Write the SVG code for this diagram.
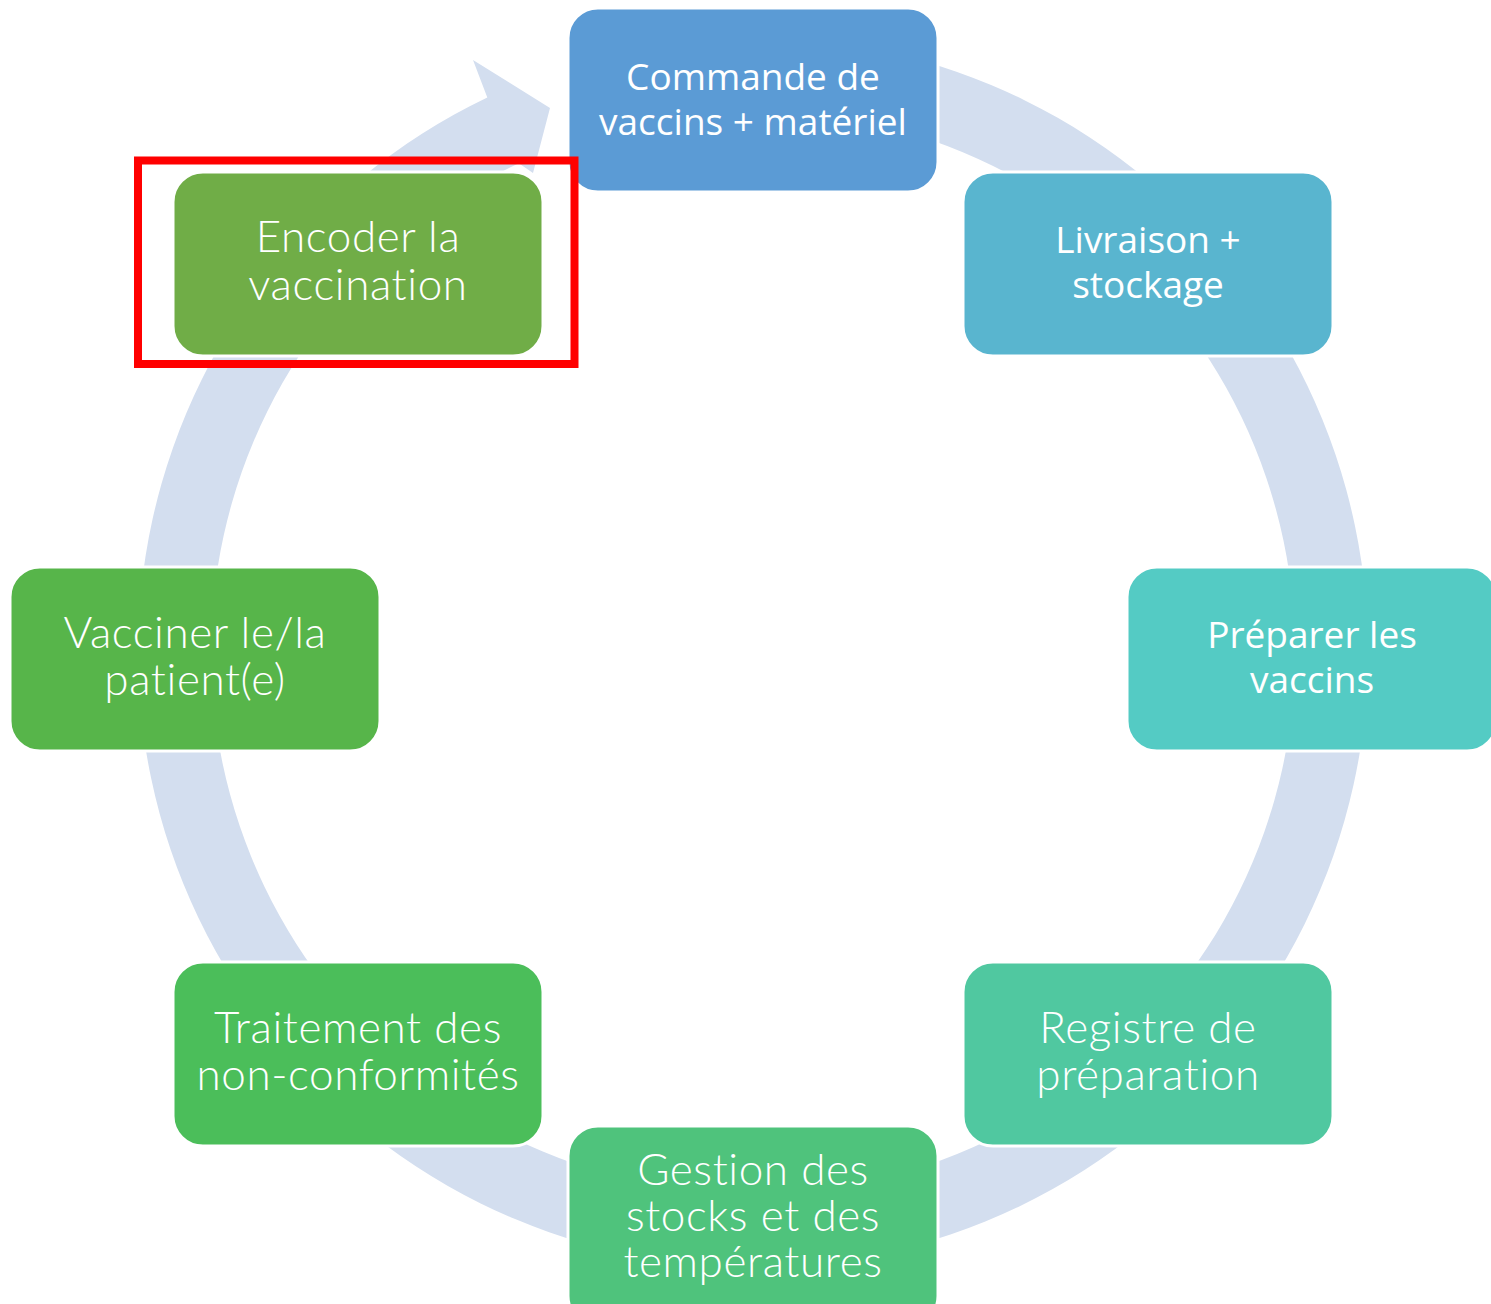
<svg xmlns="http://www.w3.org/2000/svg" width="1491" height="1304" viewBox="0 0 1491 1304">
<style>
.box{stroke:#FFFFFF;stroke-width:3}
.t1{font-family:"Open Sans","Noto Sans","Liberation Sans",sans-serif;font-size:37px;fill:#FFFFFF;text-anchor:middle}
.t2{font-family:Lato,"Open Sans","Liberation Sans",sans-serif;font-weight:300;font-size:44px;letter-spacing:0.6px;font-variant-ligatures:none;fill:#FFFFFF;text-anchor:middle}
.ring{fill:#D3DEEF}
</style>
<rect width="1491" height="1304" fill="#FFFFFF"/>
<g id="connectors">
<path class="ring" d="M 774.5 37.4 A 615 615 0 1 1 487.3 97.4 L 473 60 L 550 108 L 533 173 L 518.8 163.2 A 542 542 0 1 0 771.9 110.3 Z"/>
</g>
<g id="node-commande">
<rect class="box" x="568" y="8" width="370" height="184" rx="30" fill="#5B9BD5"/>
<text class="t1" x="753" y="90">Commande de</text>
<text class="t1" x="753" y="135">vaccins + matériel</text>
</g>
<g id="node-livraison">
<rect class="box" x="963" y="172" width="370" height="184" rx="30" fill="#59B5CF"/>
<text class="t1" x="1148" y="253">Livraison +</text>
<text class="t1" x="1148" y="298">stockage</text>
</g>
<g id="node-preparer">
<rect class="box" x="1127" y="567" width="370" height="184" rx="30" fill="#54CBC4"/>
<text class="t1" x="1312" y="648">Préparer les</text>
<text class="t1" x="1312" y="693">vaccins</text>
</g>
<g id="node-registre">
<rect class="box" x="963" y="962" width="370" height="184" rx="30" fill="#50C8A0"/>
<text class="t2" x="1148" y="1043">Registre de</text>
<text class="t2" x="1148" y="1090">préparation</text>
</g>
<g id="node-gestion">
<rect class="box" x="568" y="1126" width="370" height="200" rx="30" fill="#4FC37C"/>
<text class="t2" x="753" y="1185">Gestion des</text>
<text class="t2" x="753" y="1231">stocks et des</text>
<text class="t2" x="753" y="1277">températures</text>
</g>
<g id="node-traitement">
<rect class="box" x="173" y="962" width="370" height="184" rx="30" fill="#4BBE5A"/>
<text class="t2" x="358" y="1043">Traitement des</text>
<text class="t2" x="358" y="1090">non-conformités</text>
</g>
<g id="node-vacciner">
<rect class="box" x="10" y="567" width="370" height="184" rx="30" fill="#57B54A"/>
<text class="t2" x="195" y="648">Vacciner le/la</text>
<text class="t2" x="195" y="695">patient(e)</text>
</g>
<g id="node-encoder">
<rect class="box" x="173" y="172" width="370" height="184" rx="30" fill="#70AD47"/>
<text class="t2" x="358" y="252">Encoder la</text>
<text class="t2" x="358" y="300">vaccination</text>
</g>
<g id="highlight">
<rect x="138" y="160.5" width="436.5" height="203.5" fill="none" stroke="#FF0000" stroke-width="8"/>
</g>
</svg>
